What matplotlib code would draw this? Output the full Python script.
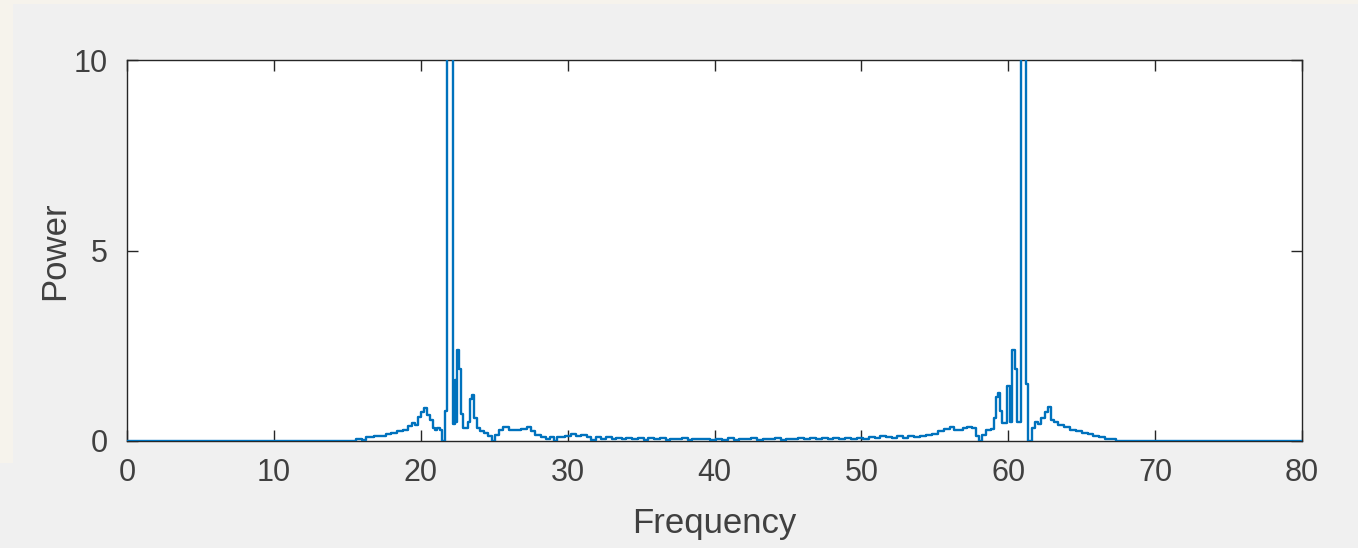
import matplotlib
matplotlib.use("Agg")
import matplotlib.pyplot as plt
from matplotlib.patches import Rectangle

# ---- data (step breakpoints: power holds from each frequency to the next) ----
freq = [0.0, 15.6, 16.0, 16.3, 16.8, 17.2, 17.6, 18.0, 18.4, 18.8, 19.1, 19.4, 19.6,
        19.8, 20.0, 20.2, 20.4, 20.6, 20.8, 21.0, 21.1, 21.3, 21.45, 21.65, 21.8,
        22.2, 22.3, 22.4, 22.45, 22.6, 22.75, 22.9, 23.2, 23.35, 23.5, 23.65, 23.8,
        24.0, 24.3, 24.6, 24.85, 25.05, 25.3, 25.6, 26.0, 26.4, 26.8, 27.2, 27.5,
        27.8, 28.2, 28.5, 28.8, 29.1, 29.3, 29.8, 30.2, 30.6, 30.9, 31.3, 31.6,
        31.9, 32.3, 32.6, 33.0, 33.3, 33.7, 34.0, 34.4, 34.8, 35.2, 35.5, 35.9,
        36.3, 36.7, 37.0, 37.4, 37.8, 38.2, 38.5, 38.9, 39.3, 39.7, 40.1, 40.5,
        40.9, 41.3, 41.7, 42.1, 42.5, 42.9, 43.3, 43.7, 44.1, 44.5, 44.9, 45.3,
        45.7, 46.1, 46.5, 46.9, 47.3, 47.7, 48.1, 48.5, 48.9, 49.3, 49.7, 50.1,
        50.5, 50.9, 51.3, 51.7, 52.1, 52.4, 52.8, 53.2, 53.6, 54.0, 54.4, 54.8,
        55.2, 55.6, 56.0, 56.3, 56.6, 56.9, 57.2, 57.5, 57.8, 58.0, 58.2, 58.5,
        58.8, 59.0, 59.15, 59.3, 59.45, 59.6, 59.9, 60.1, 60.25, 60.45, 60.6,
        60.85, 61.2, 61.35, 61.6, 61.8, 62.0, 62.2, 62.5, 62.7, 62.9, 63.1, 63.4,
        63.8, 64.2, 64.6, 65.0, 65.4, 65.8, 66.2, 66.6, 67.0, 67.35, 80.0]
power = [0.0, 0.06, 0.03, 0.10, 0.14, 0.12, 0.18, 0.22, 0.27, 0.30, 0.40, 0.48, 0.42,
         0.62, 0.75, 0.86, 0.68, 0.55, 0.35, 0.28, 0.33, 0.30, 0.0, 0.78, 12.0,
         0.45, 1.60, 0.50, 2.40, 1.90, 0.70, 0.35, 0.50, 1.10, 1.20, 0.60, 0.35,
         0.25, 0.20, 0.12, 0.0, 0.15, 0.30, 0.37, 0.30, 0.28, 0.32, 0.37, 0.25,
         0.15, 0.10, 0.06, 0.10, 0.0, 0.10, 0.14, 0.18, 0.12, 0.16, 0.10, 0.03,
         0.10, 0.06, 0.10, 0.04, 0.08, 0.05, 0.09, 0.04, 0.07, 0.03, 0.07, 0.05,
         0.08, 0.03, 0.06, 0.04, 0.07, 0.03, 0.06, 0.04, 0.05, 0.02, 0.06, 0.03,
         0.07, 0.02, 0.06, 0.04, 0.07, 0.03, 0.06, 0.04, 0.07, 0.03, 0.06, 0.05,
         0.08, 0.04, 0.07, 0.05, 0.08, 0.04, 0.07, 0.05, 0.09, 0.04, 0.08, 0.05,
         0.10, 0.07, 0.12, 0.10, 0.08, 0.12, 0.09, 0.13, 0.10, 0.12, 0.15, 0.18,
         0.25, 0.32, 0.36, 0.30, 0.28, 0.35, 0.37, 0.33, 0.12, 0.0, 0.15, 0.28,
         0.32, 0.60, 1.15, 1.25, 0.80, 0.47, 1.45, 0.50, 2.40, 1.90, 0.50,
         12.0, 1.50, 0.0, 0.35, 0.50, 0.45, 0.60, 0.75, 0.88, 0.55, 0.50, 0.42,
         0.38, 0.30, 0.25, 0.20, 0.18, 0.12, 0.10, 0.06, 0.05, 0.0, 0.0]

xticks = [0, 10, 20, 30, 40, 50, 60, 70, 80]
yticks = [0, 5, 10]

W, H = 1358, 548
plt.rcParams["font.family"] = ["Liberation Sans", "DejaVu Sans"]
fig = plt.figure(figsize=(W / 100, H / 100), dpi=100, facecolor="#f6f3ec")

# grey figure area (screenshot background)
fig.patches.append(Rectangle((13 / W, 0), 1 - 13 / W, 1 - 4 / H,
                             transform=fig.transFigure, facecolor="#f0f0f0",
                             edgecolor="none", zorder=-10))
fig.patches.append(Rectangle((0, 0), 13 / W, (H - 463) / H,
                             transform=fig.transFigure, facecolor="#f0f0f0",
                             edgecolor="none", zorder=-10))

ax = fig.add_axes([127 / W, 1 - 441 / H, (1302 - 127) / W, (441 - 60) / H])
ax.set_zorder(5)
ax.set_facecolor("white")
ax.plot(freq, power, drawstyle="steps-post", color="#0072BD", lw=1.7,
        clip_on=True, zorder=3)

ax.set_xlim(0, 80)
ax.set_ylim(0, 10)
ax.set_xticks(xticks)
ax.set_yticks(yticks)
tc = "#262626"
for s in ax.spines.values():
    s.set_color(tc)
    s.set_linewidth(1.0)
ax.tick_params(direction="in", length=8, width=1.0, color=tc, labelcolor="#404040",
               labelsize=22, top=True, right=True, pad=12)
ax.tick_params(axis="y", pad=14)
ax.set_xlabel("Frequency", fontsize=25, color="#404040", labelpad=14)
ax.set_ylabel("Power", fontsize=25, color="#404040", labelpad=2)

fig.savefig("out.png", dpi=100, facecolor=fig.get_facecolor())
